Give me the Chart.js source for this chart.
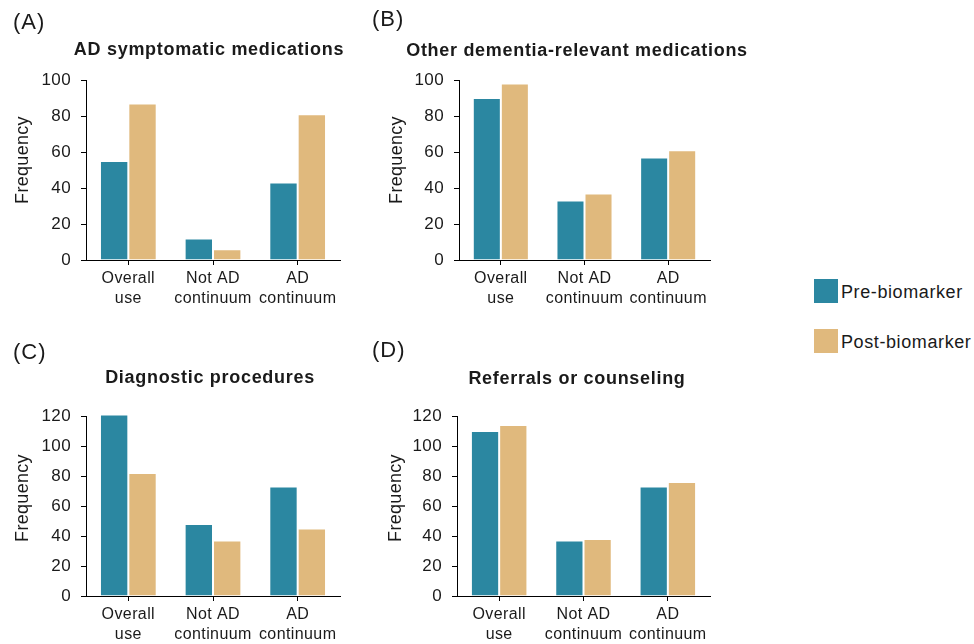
<!DOCTYPE html>
<html>
<head>
<meta charset="utf-8">
<script src="https://cdn.jsdelivr.net/npm/chart.js@4.4.1/dist/chart.umd.min.js"></script>
<style>
html,body{margin:0;padding:0;background:#fff;}
body{width:974px;height:644px;position:relative;overflow:hidden;font-family:"Liberation Sans",Arial,sans-serif;color:#1a1a1a;}
canvas{position:absolute;}
.plbl{position:absolute;font-size:22px;line-height:22px;letter-spacing:1px;white-space:nowrap;}
.ttl{position:absolute;width:400px;font-size:18px;font-weight:bold;line-height:18px;letter-spacing:0.7px;text-align:center;white-space:nowrap;}
.yt{position:absolute;font-size:18px;line-height:18px;letter-spacing:0.3px;white-space:nowrap;transform:translate(-50%,-50%) rotate(-90deg);}
.lg{position:absolute;font-size:18px;line-height:18px;letter-spacing:0.6px;white-space:nowrap;}
.sw{position:absolute;width:24px;height:24px;}
</style>
</head>
<body>
<canvas id="cA" width="370" height="320" style="left:0;top:0"></canvas>
<canvas id="cB" width="400" height="320" style="left:370px;top:0"></canvas>
<canvas id="cC" width="370" height="324" style="left:0;top:320px"></canvas>
<canvas id="cD" width="400" height="324" style="left:370px;top:320px"></canvas>

<div class="plbl" style="left:13px;top:10.5px">(A)</div>
<div class="plbl" style="left:372px;top:8px">(B)</div>
<div class="plbl" style="left:13px;top:340.5px">(C)</div>
<div class="plbl" style="left:372px;top:339px">(D)</div>

<div class="ttl" id="tA" style="left:9px;top:40.3px"></div>
<div class="ttl" id="tB" style="left:377px;top:41px"></div>
<div class="ttl" id="tC" style="left:10px;top:367.6px"></div>
<div class="ttl" id="tD" style="left:377px;top:369.3px"></div>

<div class="yt" style="left:22px;top:160px">Frequency</div>
<div class="yt" style="left:396px;top:160px">Frequency</div>
<div class="yt" style="left:22px;top:498px">Frequency</div>
<div class="yt" style="left:395px;top:498px">Frequency</div>

<div class="sw" id="swPre" style="left:814px;top:279px"></div>
<div class="lg" id="lgPre" style="left:841px;top:283px"></div>
<div class="sw" id="swPost" style="left:814px;top:329px"></div>
<div class="lg" id="lgPost" style="left:841px;top:333px"></div>

<script>
// ---- data ----
const categories = [["Overall", "use"], ["Not AD", "continuum"], ["AD", "continuum"]];
const seriesNames = ["Pre-biomarker", "Post-biomarker"];
const panelTitles = ["AD symptomatic medications", "Other dementia-relevant medications", "Diagnostic procedures", "Referrals or counseling"];
const preA = [55, 12, 43];
const postA = [87, 6, 81];
const preB = [90, 33, 57];
const postB = [98, 37, 61];
const preC = [121, 48, 73];
const postC = [82, 37, 45];
const preD = [110, 37, 73];
const postD = [114, 38, 76];
const yMaxTop = 100;     // panels A, B
const yMaxBottom = 120;  // panels C, D
const yStep = 20;

// ---- styles ----
const colPre = "#2B87A1";
const colPost = "#E0B97D";

document.getElementById("tA").textContent = panelTitles[0];
document.getElementById("tB").textContent = panelTitles[1];
document.getElementById("tC").textContent = panelTitles[2];
document.getElementById("tD").textContent = panelTitles[3];
document.getElementById("lgPre").textContent = seriesNames[0];
document.getElementById("lgPost").textContent = seriesNames[1];
document.getElementById("swPre").style.background = colPre;
document.getElementById("swPost").style.background = colPost;

Chart.defaults.font.family = '"Liberation Sans", Arial, sans-serif';
Chart.defaults.color = "#1a1a1a";

const spacing = {
  id: "spacing",
  beforeUpdate(c) { c.ctx.letterSpacing = "0.4px"; },
  beforeLayout(c) { c.ctx.letterSpacing = "0.4px"; },
  beforeDraw(c) { c.ctx.letterSpacing = "0.4px"; }
};

function makeChart(id, pre, post, yMax, yWidth, xHeight, pad) {
  new Chart(document.getElementById(id), {
    type: "bar",
    data: {
      labels: categories,
      datasets: [
        { label: seriesNames[0], data: pre, backgroundColor: colPre, borderColor: "#ffffff", borderWidth: 1, clip: false },
        { label: seriesNames[1], data: post, backgroundColor: colPost, borderColor: "#ffffff", borderWidth: 1, clip: false }
      ]
    },
    options: {
      responsive: false,
      animation: false,
      layout: { padding: pad },
      categoryPercentage: 0.67,
      barPercentage: 1.0,
      plugins: { legend: { display: false }, tooltip: { enabled: false }, title: { display: false } },
      scales: {
        x: {
          grid: { display: true, drawOnChartArea: false, drawTicks: true, tickLength: 5, offset: false, color: "#000", lineWidth: 1 },
          border: { display: true, color: "#000", width: 1 },
          ticks: { font: { size: 16, lineHeight: 1.25 }, padding: 4, maxRotation: 0, autoSkip: false, color: "#1a1a1a" },
          afterFit(s) { s.height = xHeight; }
        },
        y: {
          min: 0, max: yMax,
          grid: { display: true, drawOnChartArea: false, drawTicks: true, tickLength: 5, color: "#000", lineWidth: 1 },
          border: { display: true, color: "#000", width: 1 },
          ticks: { stepSize: yStep, font: { size: 17 }, padding: 10, color: "#1a1a1a" },
          afterFit(s) { s.width = yWidth; }
        }
      }
    },
    plugins: [spacing]
  });
}

makeChart("cA", preA, postA, yMaxTop, 86, 60, { left: 0, right: 30, top: 80, bottom: 0 });
makeChart("cB", preB, postB, yMaxTop, 89, 60, { left: 0, right: 60, top: 80, bottom: 0 });
makeChart("cC", preC, postC, yMaxBottom, 86, 48, { left: 0, right: 30, top: 96, bottom: 0 });
makeChart("cD", preD, postD, yMaxBottom, 87, 48, { left: 0, right: 60, top: 96, bottom: 0 });
</script>
</body>
</html>
